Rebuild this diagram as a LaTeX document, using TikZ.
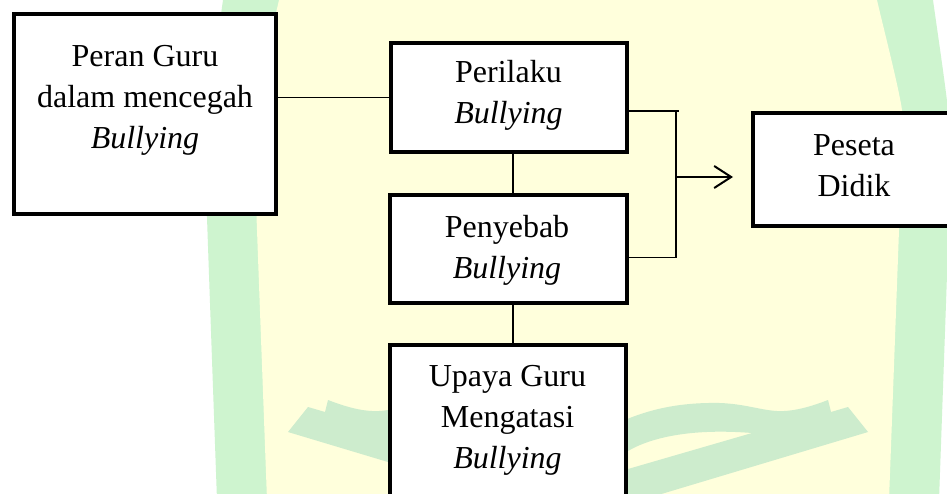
\documentclass[tikz,border=0pt]{standalone}
\usepackage{fontspec}
\setmainfont{Liberation Serif}
\usetikzlibrary{arrows.meta}
\definecolor{wmyellow}{RGB}{255,255,220}
\definecolor{wmgreen}{RGB}{206,244,207}
\definecolor{wmbook}{RGB}{205,236,205}
\begin{document}
\begin{tikzpicture}[x=1pt,y=-1pt,
  boxnode/.style={draw=black,line width=4pt,fill=white,inner sep=0pt,rectangle},
  txt/.style={anchor=base,inner sep=0pt,font=\fontsize{32}{41}\selectfont},
  conn/.style={draw=black,line width=1.3pt},
  arr/.style={conn,-{Straight Barb[length=17pt,width=22pt,line width=2pt]}}]
\useasboundingbox (0,0) rectangle (947,493);
\clip (0,0) rectangle (947,493);
\fill[white] (0,0) rectangle (947,493);
% watermark
\fill[wmgreen] plot[smooth] coordinates {(224,-10)(223,0)(208,110)(206,170)(207,217)(217,500)}
  -- plot[smooth] coordinates {(939,500)(949,217)(950,170)(948,110)(933,0)(932,-10)} -- cycle;
\fill[wmyellow] plot[smooth] coordinates {(280,-10)(279,0)(254,110)(255,170)(257,230)(267,500)}
  -- plot[smooth] coordinates {(889,500)(899,230)(901,170)(902,110)(877,0)(876,-10)} -- cycle;
\foreach \sc/\sh in {1/0,-1/1156}{
\begin{scope}[shift={(\sh,0)},xscale=\sc]
\fill[wmbook,even odd rule] (578,440) -- (600,432) .. controls (635,413) and (670,402) .. (720,403)
  .. controls (745,404) and (760,410) .. (777,411) .. controls (795,412) and (815,405) .. (828,400)
  -- (831,412) -- (848,407) -- (868,432) -- (578,519) -- cycle
  (628,451) .. controls (650,438) and (690,428) .. (752,433) -- (628,469) -- cycle;
\end{scope}}
% boxes
\node[boxnode,minimum width=261.5pt,minimum height=200.5pt] (guru) at (144.75,113.75) {};
\node[boxnode,minimum width=236pt,minimum height=109.5pt] (perilaku) at (508.5,97.25) {};
\node[boxnode,minimum width=237pt,minimum height=107.5pt] (penyebab) at (508,248.75) {};
\node[boxnode,minimum width=236pt,minimum height=155.5pt] (upaya) at (507.5,422.25) {};
\node[boxnode,minimum width=203pt,minimum height=113pt] (peserta) at (854,169) {};
% texts
\node[txt] (tguru) at (145,66.5) {\begin{tabular}[t]{@{}c@{}}Peran Guru\\dalam mencegah\\\textit{Bullying}\end{tabular}};
\node[txt] (tperilaku) at (508.5,82) {\begin{tabular}[t]{@{}c@{}}Perilaku\\\textit{Bullying}\end{tabular}};
\node[txt] (tpenyebab) at (507,237) {\begin{tabular}[t]{@{}c@{}}Penyebab\\\textit{Bullying}\end{tabular}};
\node[txt] (tupaya) at (507.5,386) {\begin{tabular}[t]{@{}c@{}}Upaya Guru\\Mengatasi\\\textit{Bullying}\end{tabular}};
\node[txt] (tpeserta) at (854,155) {\begin{tabular}[t]{@{}c@{}}Peseta\\Didik\end{tabular}};
% connectors
\coordinate (spine) at (513,0);
\coordinate (brtop) at (679,111);
\coordinate (brtopv) at (676,111);
\coordinate (brbot) at (676,257.7);
\coordinate (arrs) at (676,177);
\coordinate (arre) at (733,177);
\draw[conn] (guru.east |- perilaku.west) -- (perilaku.west);
\draw[conn] (perilaku.south -| spine) -- (penyebab.north -| spine);
\draw[conn] (penyebab.south -| spine) -- (upaya.north -| spine);
\draw[conn] (perilaku.east |- brtop) -- (brtop);
\draw[conn] (penyebab.east |- brbot) -- (brbot) -- (brtopv);
\draw[arr] (arrs) -- (arre);
\end{tikzpicture}
\end{document}
